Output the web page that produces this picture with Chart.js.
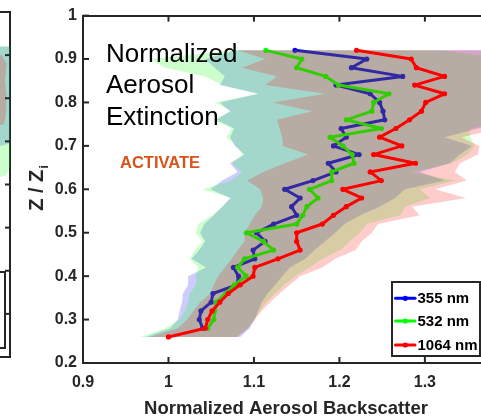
<!DOCTYPE html>
<html><head><meta charset="utf-8">
<script src="https://cdn.jsdelivr.net/npm/chart.js@4.4.1/dist/chart.umd.min.js"></script>
<style>
html,body{margin:0;padding:0;width:481px;height:420px;overflow:hidden;background:#fff;}
#wrap{position:relative;width:481px;height:420px;overflow:hidden;}
#left{position:absolute;left:-400px;top:0;}
#main{position:absolute;left:0;top:0;}
</style></head><body>
<div id="wrap">
<canvas id="left" width="420" height="420"></canvas>
<canvas id="main" width="540" height="420"></canvas>
</div>
<script>
// ---------- data (main panel) ----------
const zLevels = [0.92,0.90,0.88,0.86,0.84,0.82,0.80,0.78,0.76,0.74,0.72,0.70,0.68,0.66,0.64,0.62,0.60,0.58,0.56,0.54,0.52,0.50,0.48,0.46,0.44,0.42,0.40,0.38,0.36,0.34,0.32,0.30,0.28,0.26];
const backscatter355  = [1.148,1.232,1.214,1.274,1.196,1.236,1.247,1.251,1.253,1.202,1.208,1.193,1.223,1.187,1.196,1.169,1.136,1.154,1.144,1.150,1.123,1.103,1.113,1.099,1.101,1.076,1.082,1.080,1.052,1.050,1.038,1.036,1.040,null];
const backscatter532  = [1.114,1.156,1.150,1.184,1.199,1.258,1.240,1.238,1.208,1.249,1.189,1.204,1.215,1.217,1.191,1.191,1.165,1.175,1.162,1.157,1.150,1.091,1.111,1.123,1.089,1.081,1.091,1.077,1.067,1.056,1.054,1.053,1.046,null];
const backscatter1064 = [1.220,1.284,1.290,1.323,1.288,1.323,1.301,1.296,1.282,1.266,1.247,1.273,1.240,1.289,1.236,1.249,1.204,1.226,1.208,1.193,1.180,1.150,1.150,1.154,1.128,1.101,1.099,1.084,1.070,1.060,1.051,1.046,1.043,1.000];
const low355  = [1.079,1.043,1.054,1.066,1.060,1.105,1.060,1.072,1.056,1.077,1.072,1.078,1.089,1.072,1.081,1.063,1.049,1.072,1.063,1.053,1.042,1.037,1.043,1.036,1.027,1.044,1.023,1.023,1.017,1.016,1.013,1.011,1.002,0.973];
const high355 = [1.40,1.40,1.40,1.40,1.40,1.40,1.40,1.40,1.40,1.362,1.323,1.355,1.341,1.329,1.294,1.323,1.277,1.265,1.247,1.224,1.206,1.195,1.183,1.171,1.160,1.142,1.133,1.125,1.116,1.109,1.105,1.101,1.095,1.084];
const low532  = [1.077,0.978,0.996,1.043,1.063,1.105,1.054,1.074,1.052,1.074,1.068,1.079,1.087,1.074,1.086,1.074,1.040,1.074,1.063,1.051,1.035,1.032,1.040,1.031,1.025,1.035,1.032,1.032,1.025,1.023,1.019,1.013,0.996,0.967];
const high532 = [1.318,1.40,1.40,1.40,1.40,1.40,1.40,1.40,1.40,1.353,1.353,1.358,1.350,1.332,1.285,1.335,1.294,1.306,1.277,1.271,1.232,1.224,1.212,1.201,1.180,1.165,1.148,1.136,1.125,1.114,1.107,1.100,1.093,1.079];
const low1064  = [1.081,1.113,1.086,1.127,1.113,1.183,1.122,1.168,1.127,1.130,1.133,1.134,1.163,1.136,1.111,1.092,1.107,1.111,1.109,1.101,1.095,1.089,1.089,1.081,1.074,1.066,1.058,1.053,1.049,1.037,1.029,1.022,1.011,0.978];
const high1064 = [1.41,1.41,1.41,1.41,1.41,1.41,1.41,1.41,1.41,1.388,1.343,1.364,1.362,1.341,1.335,1.349,1.312,1.348,1.285,1.294,1.245,1.238,1.226,1.219,1.195,1.180,1.154,1.142,1.130,1.119,1.109,1.101,1.093,1.081];

const xTickValues = [0.9, 1.0, 1.1, 1.2, 1.3];
const xTickLabels = ['0.9', '1', '1.1', '1.2', '1.3'];
const yTickValues = [0.2, 0.3, 0.4, 0.5, 0.6, 0.7, 0.8, 0.9, 1.0];
const yTickLabels = ['0.2', '0.3', '0.4', '0.5', '0.6', '0.7', '0.8', '0.9', '1'];
const seriesNames = ['355 nm', '532 nm', '1064 nm'];
const xTitle = 'Normalized Aerosol Backscatter';
const yTitleMain = 'Z / Z';
const yTitleSub = 'i';
const noteLines = ['Normalized', 'Aerosol', 'Extinction'];
const campaignLabel = 'ACTIVATE';

// ---------- data (partially visible left panel) ----------
const leftZ = [0.92,0.90,0.88,0.84,0.80,0.76,0.74,0.72,0.70,0.68,0.66,0.64,0.62,0.60];
const leftLow355  = [1.08,1.05,1.04,1.06,1.05,1.07,1.06,1.07,1.05,1.06,1.05,1.04,1.05,1.04];
const leftHigh355 = [1.45,1.45,1.44,1.45,1.44,1.45,1.43,1.44,1.41,1.37,1.33,1.30,1.28,1.26];
const leftLow532  = [1.07,1.04,1.05,1.05,1.06,1.06,1.05,1.06,1.04,1.05,1.06,1.05,1.04,1.05];
const leftHigh532 = [1.45,1.46,1.45,1.44,1.45,1.44,1.45,1.44,1.43,1.42,1.41,1.40,1.395,1.30];
const leftLow1064  = [1.10,1.09,1.08,1.10,1.09,1.10,1.09,1.10,1.08,1.09,1.10,1.09,1.08,1.09];
const leftHigh1064 = [1.32,1.39,1.396,1.394,1.396,1.395,1.393,1.33,1.28,1.25,1.22,1.20,1.18,1.16];
const leftTickValues = [0.3, 0.4, 0.5, 0.6, 0.7, 0.8, 0.9];

// ---------- helpers ----------
const FONT = "'Liberation Sans', Arial, Helvetica, sans-serif";
const AXIS = '#262626';
Chart.defaults.font.family = FONT;

function toPoints(xs, zs) {
  const out = [];
  xs.forEach((v, i) => { if (v !== null) out.push({x: v, y: zs[i]}); });
  return out;
}
function toBand(lo, hi, zs) {
  const out = [];
  for (let i = zs.length - 1; i >= 0; i--) out.push({x: lo[i], y: zs[i]});
  for (let i = 0; i < zs.length; i++) out.push({x: hi[i], y: zs[i]});
  return out;
}
function bandDs(data, color, order) {
  return { data, fill: 'shape', backgroundColor: color, borderColor: 'rgba(0,0,0,0)',
    borderWidth: 0, pointRadius: 0, pointHoverRadius: 0, order, tension: 0,
    xAxisID: 'x', yAxisID: 'y' };
}
function lineDs(label, data, color, order) {
  return { label, data, fill: false, borderColor: color, backgroundColor: color,
    borderWidth: 3, pointRadius: 2.6, pointHoverRadius: 0, pointBorderWidth: 0,
    pointBackgroundColor: color, borderJoinStyle: 'round', borderCapStyle: 'round',
    tension: 0, order, xAxisID: 'x', yAxisID: 'y' };
}
function seg(ctx, x1, y1, x2, y2) { ctx.beginPath(); ctx.moveTo(x1, y1); ctx.lineTo(x2, y2); ctx.stroke(); }

// ---------- main chart ----------
const mainPlugin = {
  id: 'mainDecor',
  afterDraw(chart) {
    const ctx = chart.ctx, a = chart.chartArea, xs = chart.scales.x, ys = chart.scales.y;
    ctx.save();
    // inward ticks
    ctx.strokeStyle = AXIS; ctx.lineWidth = 2;
    xTickValues.forEach(v => {
      const px = xs.getPixelForValue(v);
      seg(ctx, px, a.bottom, px, a.bottom - 6);
      seg(ctx, px, a.top, px, a.top + 6);
    });
    yTickValues.forEach(v => {
      const py = ys.getPixelForValue(v);
      seg(ctx, a.left, py, a.left + 6, py);
    });
    // y title with subscript
    ctx.save();
    ctx.translate(43, 188);
    ctx.rotate(-Math.PI / 2);
    ctx.fillStyle = AXIS;
    ctx.textBaseline = 'alphabetic';
    ctx.textAlign = 'left';
    ctx.font = 'bold 20px ' + FONT;
    const w1 = ctx.measureText(yTitleMain).width;
    ctx.font = 'bold 13px ' + FONT;
    const w2 = ctx.measureText(yTitleSub).width;
    const start = -(w1 + w2 + 1) / 2;
    ctx.font = 'bold 20px ' + FONT;
    ctx.fillText(yTitleMain, start, 0);
    ctx.font = 'bold 13px ' + FONT;
    ctx.fillText(yTitleSub, start + w1 + 1, 5);
    ctx.restore();
    // annotation text
    ctx.fillStyle = '#000';
    ctx.textAlign = 'left';
    ctx.textBaseline = 'alphabetic';
    ctx.font = '26px ' + FONT;
    const baselines = [61.7, 92.5, 124.5];
    noteLines.forEach((t, i) => ctx.fillText(t, 106, baselines[i]));
    ctx.fillStyle = '#D95319';
    ctx.font = 'bold 16.5px ' + FONT;
    ctx.fillText(campaignLabel, 120, 168.3);
    // legend
    const items = chart.data.datasets.filter(d => d.label);
    const bx = 392, by = 282, bw = 88, bh = 74;
    ctx.fillStyle = '#fff';
    ctx.fillRect(bx, by, bw, bh);
    ctx.strokeStyle = AXIS; ctx.lineWidth = 2;
    ctx.strokeRect(bx, by, bw, bh);
    const rows = [16.3, 39, 63];
    items.forEach((d, i) => {
      const ry = by + rows[i];
      ctx.strokeStyle = d.borderColor; ctx.lineWidth = 3; ctx.lineCap = 'round';
      seg(ctx, bx + 3.5, ry, bx + 23, ry);
      ctx.fillStyle = d.borderColor;
      ctx.beginPath(); ctx.arc(bx + 13.3, ry, 2.6, 0, Math.PI * 2); ctx.fill();
      ctx.fillStyle = '#000';
      ctx.font = 'bold 15px ' + FONT;
      ctx.textBaseline = 'middle';
      ctx.fillText(d.label, bx + 25.5, ry + 0.5);
    });
    ctx.restore();
  }
};

new Chart(document.getElementById('main'), {
  type: 'line',
  data: {
    datasets: [
      bandDs(toBand(low355, high355, zLevels), 'rgba(0,0,255,0.2)', 6),
      lineDs(seriesNames[0], toPoints(backscatter355, zLevels), '#0000ff', 5),
      bandDs(toBand(low532, high532, zLevels), 'rgba(0,255,0,0.2)', 4),
      lineDs(seriesNames[1], toPoints(backscatter532, zLevels), '#00ff00', 3),
      bandDs(toBand(low1064, high1064, zLevels), 'rgba(255,0,0,0.2)', 2),
      lineDs(seriesNames[2], toPoints(backscatter1064, zLevels), '#ff0000', 1)
    ]
  },
  options: {
    responsive: false,
    animation: false,
    events: [],
    layout: { padding: { left: 0, right: 51, top: 12, bottom: 0 } },
    plugins: { legend: { display: false }, tooltip: { enabled: false },
               filler: { drawTime: 'beforeDatasetDraw', propagate: false } },
    scales: {
      x: {
        type: 'linear', position: 'bottom', min: 0.9, max: 1.375,
        afterBuildTicks: s => { s.ticks = xTickValues.map(v => ({value: v})); },
        afterFit: s => { s.height = 57; },
        ticks: { callback: (v, i) => xTickLabels[i], padding: 10, color: AXIS,
                 font: { size: 16, weight: 'bold' }, maxRotation: 0, autoSkip: false },
        grid: { display: false, drawTicks: false },
        border: { display: true, color: AXIS, width: 2 },
        title: { display: true, text: xTitle, color: AXIS,
                 font: { size: 18.5, weight: 'bold' }, padding: { top: 0, bottom: 0 } }
      },
      x2: {
        type: 'linear', position: 'top', min: 0.9, max: 1.375,
        afterFit: s => { s.height = 0; },
        ticks: { display: false },
        grid: { display: false, drawTicks: false },
        border: { display: true, color: AXIS, width: 2 }
      },
      y: {
        type: 'linear', position: 'left', min: 0.2, max: 1.0,
        afterBuildTicks: s => { s.ticks = yTickValues.map(v => ({value: v})); },
        afterFit: s => { s.width = 83; },
        ticks: { callback: (v, i) => yTickLabels[i], padding: 6, color: AXIS,
                 font: { size: 16, weight: 'bold' }, autoSkip: false },
        grid: { display: false, drawTicks: false },
        border: { display: true, color: AXIS, width: 2 }
      }
    }
  },
  plugins: [mainPlugin]
});

// ---------- left (cropped) panel ----------
const leftPlugin = {
  id: 'leftDecor',
  afterDraw(chart) {
    const ctx = chart.ctx, a = chart.chartArea, ys = chart.scales.y;
    ctx.save();
    ctx.strokeStyle = AXIS; ctx.lineWidth = 2;
    seg(ctx, a.left, a.top, a.right, a.top);
    leftTickValues.forEach(v => {
      const py = ys.getPixelForValue(v);
      seg(ctx, a.right, py, a.right - 5, py);
    });
    // legend box of the left panel (only its right edge is visible)
    ctx.fillStyle = '#fff';
    ctx.fillRect(a.right - 100, a.top + 260, 95, 76);
    ctx.strokeRect(a.right - 100, a.top + 260, 95, 76);
    ctx.restore();
  }
};

new Chart(document.getElementById('left'), {
  type: 'line',
  data: {
    datasets: [
      bandDs(toBand(leftLow355, leftHigh355, leftZ), 'rgba(0,0,255,0.2)', 3),
      bandDs(toBand(leftLow532, leftHigh532, leftZ), 'rgba(0,255,0,0.2)', 2),
      bandDs(toBand(leftLow1064, leftHigh1064, leftZ), 'rgba(255,0,0,0.2)', 1)
    ]
  },
  options: {
    responsive: false,
    animation: false,
    events: [],
    layout: { padding: { left: 0, right: 10, top: 12, bottom: 0 } },
    plugins: { legend: { display: false }, tooltip: { enabled: false },
               filler: { drawTime: 'beforeDatasetDraw', propagate: false } },
    scales: {
      x: {
        type: 'linear', position: 'bottom', min: 0.9, max: 1.4,
        afterFit: s => { s.height = 63; },
        ticks: { display: false },
        grid: { display: false, drawTicks: false },
        border: { display: true, color: AXIS, width: 2 }
      },
      y: {
        type: 'linear', position: 'right', min: 0.2, max: 1.0,
        afterFit: s => { s.width = 0; },
        ticks: { display: false },
        grid: { display: false, drawTicks: false },
        border: { display: true, color: AXIS, width: 2 }
      }
    }
  },
  plugins: [leftPlugin]
});
</script>
</body></html>
